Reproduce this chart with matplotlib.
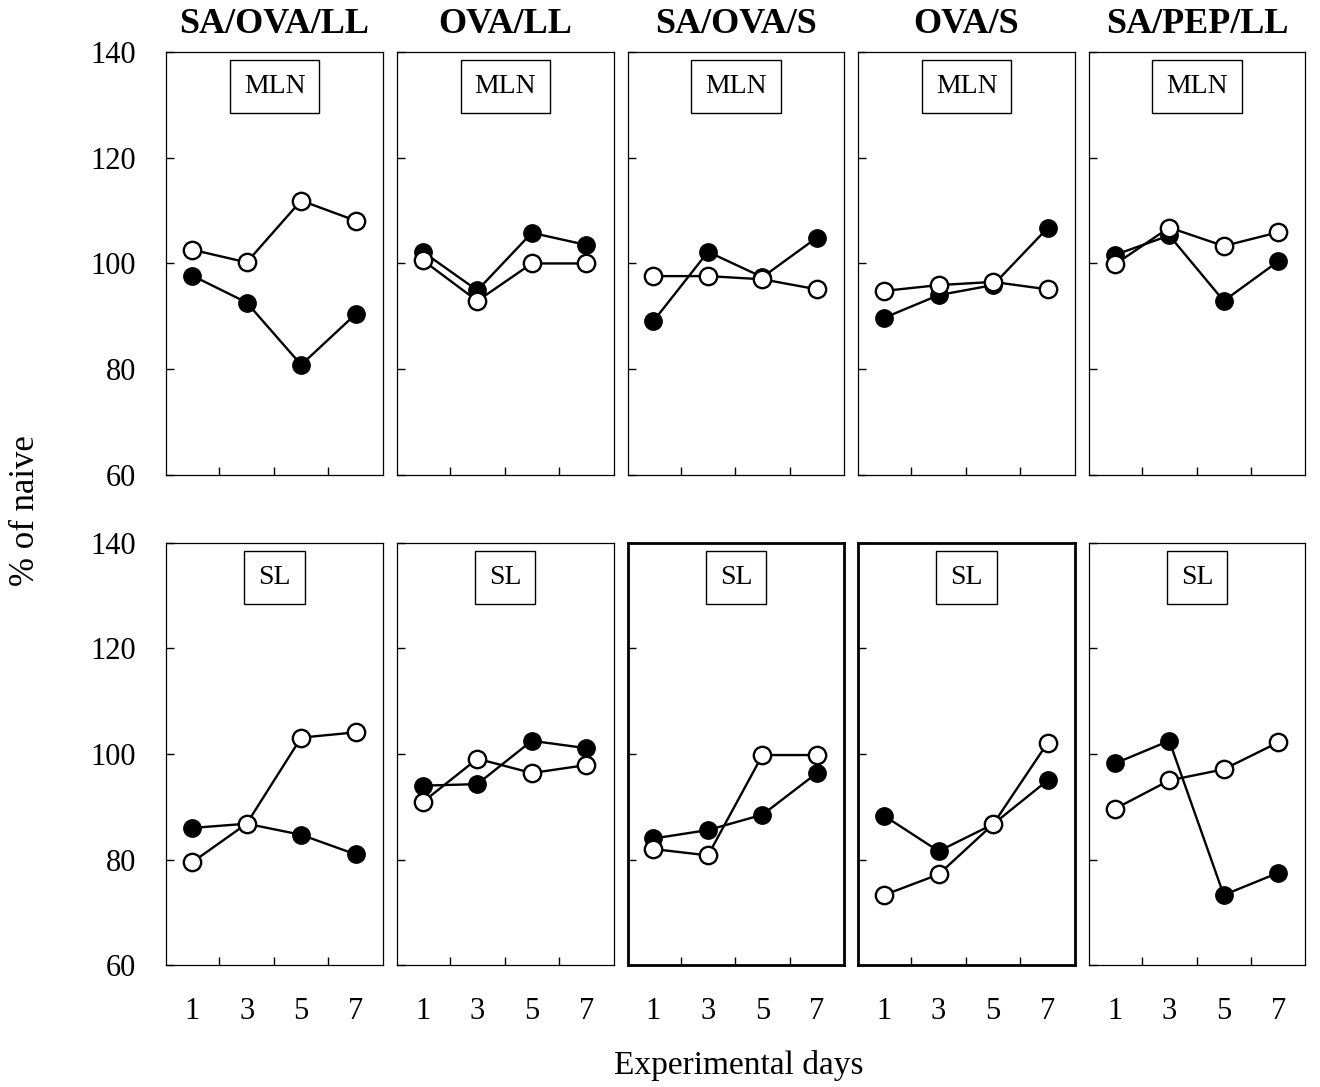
import matplotlib
matplotlib.use("Agg")
import matplotlib.pyplot as plt

plt.rcParams['font.family'] = ['Liberation Serif', 'DejaVu Serif']

days = [1, 3, 5, 7]
groups = ["SA/OVA/LL", "OVA/LL", "SA/OVA/S", "OVA/S", "SA/PEP/LL"]
tissues = ["MLN", "SL"]

# filled circles
mln_filled = [
    [97.7, 92.6, 80.8, 90.4],
    [102.2, 94.9, 105.8, 103.5],
    [89.1, 102.2, 97.4, 104.9],
    [89.7, 94.0, 95.9, 106.7],
    [101.6, 105.3, 92.9, 100.4],
]
# open circles
mln_open = [
    [102.6, 100.2, 111.9, 108.1],
    [100.6, 92.9, 100.0, 100.0],
    [97.6, 97.6, 97.0, 95.1],
    [94.8, 95.9, 96.5, 95.1],
    [99.8, 106.8, 103.3, 105.9],
]
sl_filled = [
    [86.0, 86.8, 84.7, 81.0],
    [94.0, 94.3, 102.5, 101.1],
    [84.0, 85.6, 88.5, 96.4],
    [88.3, 81.6, 86.7, 95.0],
    [98.2, 102.5, 73.3, 77.5],
]
sl_open = [
    [79.5, 86.8, 103.1, 104.1],
    [90.9, 99.1, 96.4, 97.9],
    [82.0, 80.8, 99.8, 99.8],
    [73.3, 77.2, 86.7, 102.1],
    [89.6, 95.0, 97.1, 102.2],
]

filled = [mln_filled, sl_filled]
opened = [mln_open, sl_open]

fig, axes = plt.subplots(2, 5, figsize=(13.2, 10.87), dpi=100)
fig.subplots_adjust(left=0.126, right=0.989, top=0.952, bottom=0.112,
                    wspace=0.065, hspace=0.161)

for r in range(2):
    for c in range(5):
        ax = axes[r, c]
        ax.plot(days, filled[r][c], '-o', color='black', lw=1.7,
                ms=12.5, mfc='black', mec='black', zorder=3)
        ax.plot(days, opened[r][c], '-o', color='black', lw=1.7,
                ms=12.5, mfc='white', mec='black', mew=1.7, zorder=4)
        ax.set_xlim(0.05, 8.0)
        ax.set_ylim(60, 140)
        ax.set_yticks([60, 80, 100, 120, 140])
        ax.set_xticks(days)
        ax.set_xticks([2, 4, 6], minor=True)
        ax.tick_params(axis='x', which='major', length=0, pad=23, labelsize=22)
        ax.tick_params(axis='x', which='minor', direction='in', length=6, width=1)
        ax.tick_params(axis='y', direction='in', length=6, width=1, pad=22, labelsize=22)
        if r == 0:
            ax.set_xticklabels([])
            ax.set_title(groups[c], fontsize=26, fontweight='bold', pad=14)
        if c > 0:
            ax.set_yticklabels([])
        for sp in ax.spines.values():
            sp.set_linewidth(0.9)
        if r == 1 and c in (2, 3):
            for sp in ax.spines.values():
                sp.set_linewidth(2.0)
        ax.text(0.5, 0.918, tissues[r], transform=ax.transAxes, ha='center',
                va='center', fontsize=20,
                bbox=dict(boxstyle='square,pad=0.5', fc='white', ec='black', lw=1))

fig.text(0.019, 0.53, "% of naive", rotation=90, ha='center', va='center', fontsize=25)
fig.text(0.56, 0.02, "Experimental days", ha='center', va='center', fontsize=24)

fig.savefig("out.png", dpi=100)
